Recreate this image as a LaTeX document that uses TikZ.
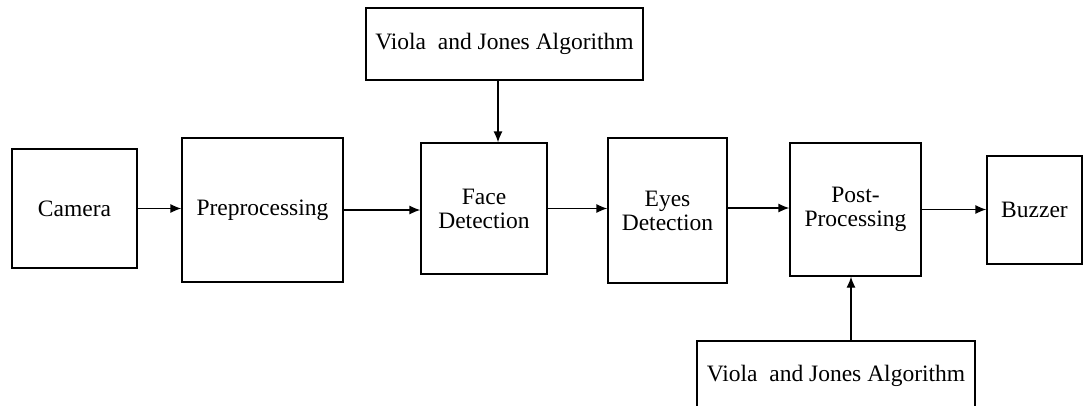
\documentclass[tikz,border=0pt]{standalone}
\usepackage{fontspec}
\setmainfont{Liberation Serif}
\usetikzlibrary{arrows.meta}

\tikzset{
	blockbox/.style={draw=black, line width=1.3pt, inner sep=0pt, align=center,
		font=\fontsize{23.5}{24}\selectfont},
	flow/.style={-{Latex[length=11pt,width=9pt]}, line width=1.3pt}
}

\begin{document}
\begin{tikzpicture}[x=1pt,y=-1pt]
				\useasboundingbox (0,0) rectangle (1085,405);
				% main chain
				\node[blockbox, minimum width=125pt, minimum height=119pt] (cam) at (74.5,208.5) {Camera};
				\node[blockbox, minimum width=161pt, minimum height=144pt] (prep) at (262.5,210) {Preprocessing};
				\node[blockbox, minimum width=126pt, minimum height=131pt] (face) at (484,208.5) {Face\\Detection};
				\node[blockbox, minimum width=119pt, minimum height=145pt] (eyes) at (667.5,210.5) {Eyes\\Detection};
				\node[blockbox, minimum width=131pt, minimum height=133pt] (post) at (855.5,209.5) {Post-\\Processing};
				\node[blockbox, minimum width=95pt, minimum height=108pt] (buzz) at (1034.5,210) {Buzzer};
				% algorithm blocks
				\node[blockbox, minimum width=277pt, minimum height=72pt] (vjtop) at (504.5,44) {Viola\ \ and Jones Algorithm};
				\node[blockbox, minimum width=278pt, minimum height=70pt] (vjbot) at (836,376) {Viola\ \ and Jones Algorithm};

				\draw[flow] (cam.east) -- (cam.east -| prep.west);
				\draw[flow] (prep.east) -- (prep.east -| face.west);
				\draw[flow] (face.east) -- (face.east -| eyes.west);
				\draw[flow] ([yshift=2.5pt]eyes.east) -- ([yshift=2.5pt]eyes.east -| post.west);
				\draw[flow] (post.east) -- (post.east -| buzz.west);
				\draw[flow] ([xshift=-6.5pt]vjtop.south) -- ([xshift=-6.5pt]vjtop.south |- face.north);
				\draw[flow] ([xshift=15pt]vjbot.north) -- ([xshift=15pt]vjbot.north |- post.south);
\end{tikzpicture}
\end{document}
